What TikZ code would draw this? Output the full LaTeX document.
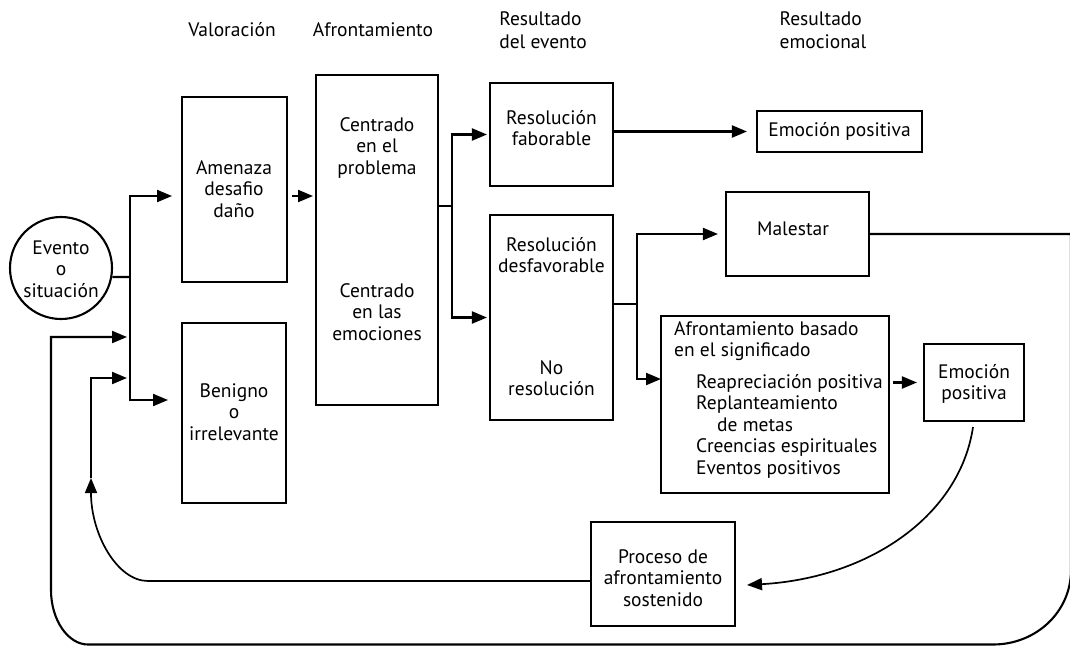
\documentclass[tikz,border=0pt]{standalone}
\usepackage{fontspec}
\setmainfont{PT Sans}
\usetikzlibrary{arrows.meta}
\begin{document}
\begin{tikzpicture}[x=1pt,y=-1pt,
  every node/.style={font=\fontsize{19.5}{21.5}\selectfont},
  bx/.style={draw, line width=2.1pt, inner sep=0pt},
  txt/.style={align=center, inner sep=0pt},
  hdr/.style={align=left, inner sep=0pt, font=\fontsize{19.5}{23.5}\selectfont},
  ln/.style={line width=2.1pt},
  arr/.style={line width=2.1pt, -{Triangle[length=15pt,width=12pt]}},
  carr/.style={line width=1.7pt, -{Triangle[length=15pt,width=12pt]}},
]
\useasboundingbox (0,0) rectangle (1070,646);

% headers
\node[hdr] (h1) at (232,30) {Valoración};
\node[hdr] (h2) at (373,30) {Afrontamiento};
\node[hdr] (h3) at (543,30) {Resultado\\del evento};
\node[hdr] (h4) at (823,30) {Resultado\\emocional};

% event circle
\node[draw, circle, line width=2.1pt, minimum size=102pt, inner sep=0pt] (ev) at (61,268) {};
\node[txt] (evt) at (61,269) {Evento\\o\\situación};

% boxes
\node[bx, minimum width=105pt, minimum height=185pt] (amen) at (234.5,189.5) {};
\node[txt] (amentxt) at (234,189) {Amenaza\\desafio\\daño};
\node[bx, minimum width=104pt, minimum height=180pt] (ben) at (234,413) {};
\node[txt] (bentxt) at (234,412) {Benigno\\o\\irrelevante};
\node[bx, minimum width=122pt, minimum height=330pt] (afr) at (377,240) {};
\node[txt] (afr1) at (377,148) {Centrado\\en el\\problema};
\node[txt] (afr2) at (377,312) {Centrado\\en las\\emociones};
\node[bx, minimum width=123pt, minimum height=103pt] (fav) at (551.5,134.5) {};
\node[txt] (favtxt) at (551.5,128) {Resolución\\faborable};
\node[bx, minimum width=123pt, minimum height=205pt] (desf) at (551.5,317.5) {};
\node[txt] (desf1) at (551.5,255) {Resolución\\desfavorable};
\node[txt] (desf2) at (551.5,378) {No\\resolución};
\node[bx, minimum width=165pt, minimum height=41pt] (emo1) at (839.5,131.5) {};
\node[txt] (emo1txt) at (839.5,131) {Emoción positiva};
\node[bx, minimum width=143pt, minimum height=84pt] (mal) at (797.5,234) {};
\node[txt] (maltxt) at (793,229) {Malestar};
\node[bx, minimum width=228pt, minimum height=177pt] (bas) at (775,404.5) {};
\node[hdr, anchor=north west, font=\fontsize{19.5}{21.5}\selectfont] (bastxt) at (674,321) {Afrontamiento basado\\en el significado\\[10pt]
\hspace*{22pt}Reapreciación positiva\\
\hspace*{22pt}Replanteamiento\\
\hspace*{43pt}de metas\\
\hspace*{22pt}Creencias espirituales\\
\hspace*{22pt}Eventos positivos};
\node[bx, minimum width=100pt, minimum height=77pt] (emo2) at (974,382.5) {};
\node[txt] (emo2txt) at (974,384) {Emoción\\positiva};
\node[bx, minimum width=144pt, minimum height=104pt] (proc) at (663,574) {};
\node[txt] (proctxt) at (663,578) {Proceso de\\afrontamiento\\sostenido};

% junctions
\coordinate (j1) at (130,277);
\coordinate (a1) at (172,196);
\coordinate (b1) at (168,400);
\coordinate (j2) at (452,206);
\coordinate (j3) at (637,304);
\coordinate (c1) at (661,379);
\coordinate (aa) at (292,196);
\coordinate (ab) at (313,196);

% connectors
\draw[ln] (ev.-10) -- (j1);
\draw[arr] (j1) |- (a1);
\draw[arr] (j1) |- (b1);
\draw[arr] (aa) -- (ab);
\draw[ln] (afr.east |- j2) -- (j2);
\draw[arr, shorten >=2pt] (j2) |- (fav.west);
\draw[arr, shorten >=2pt] (j2) |- (desf.west);
\draw[arr] (fav.east |- emo1.west) -- ([xshift=-9pt]emo1.west);
\draw[ln] (desf.east |- j3) -- (j3);
\draw[arr] (j3) |- ([xshift=-7pt]mal.west);
\draw[arr] (j3) |- (c1);
\draw[arr] ([xshift=3pt]bas.east |- emo2.west) -- ([xshift=-6pt]emo2.west);

% outer loop
\coordinate (o1) at (1071,234);
\coordinate (o2) at (51,337);
\coordinate (o3) at (127,337);
\draw[arr] (mal.east) -- (o1) -- (1071,570) .. controls (1071,612) and (1036,644.5) .. (993,644.5)
  -- (88,644.5) .. controls (68,644.5) and (51,620) .. (51,590) -- (o2) -- (o3);

% emotion -> sustained coping
\coordinate (e1) at (973,427);
\coordinate (e2) at (747,585);
\draw[carr] (e1) .. controls (960,515) and (870,578) .. (e2);

% inner loop
\coordinate (q0) at (591,581);
\coordinate (q1) at (148,581);
\coordinate (q2) at (91,478);
\coordinate (q3) at (127,378);
\draw[carr] (q0) -- (q1) .. controls (117,581) and (91,534) .. (91,493) -- (q2);
\draw[arr] (q2) |- (q3);
\end{tikzpicture}
\end{document}
